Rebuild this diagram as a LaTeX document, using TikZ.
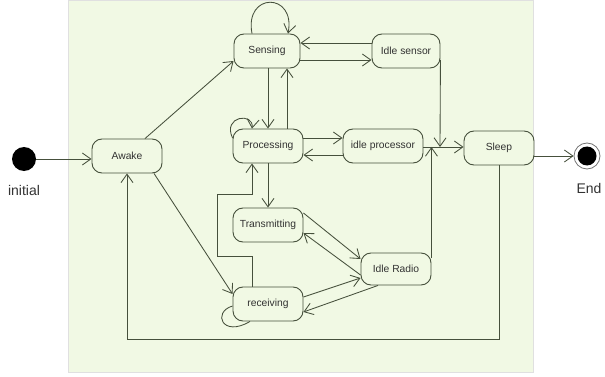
\documentclass[tikz,border=0pt]{standalone}
\usepackage{fontspec}
\setmainfont{Liberation Sans}
\usetikzlibrary{arrows.meta}
\definecolor{panelgreen}{RGB}{241,249,228}
\definecolor{edgegray}{RGB}{70,80,60}
\definecolor{textgray}{RGB}{50,50,50}

\begin{document}
\begin{tikzpicture}[x=1pt,y=-1pt,
    statebox/.style={draw=edgegray, line width=0.9pt, rounded corners=10pt, fill=panelgreen,
        minimum width=70pt, minimum height=34pt, inner sep=2pt,
        font=\fontsize{10.3}{12}\selectfont, text=textgray},
    trans/.style={draw=edgegray, line width=0.85pt, -{Straight Barb[length=8.5pt,width=12pt]}},
    link/.style={draw=edgegray, line width=0.85pt}]
    % 背景
    \useasboundingbox (0,0) rectangle (605,377);
    \filldraw[fill=panelgreen, draw=black!12] (68,0) rectangle (533,372);

    % 状态
    \node[circle, fill=black, minimum size=24pt, inner sep=0pt] (init) at (24,159) {};
    \node[font=\fontsize{14}{16}\selectfont, text=textgray] (initlabel) at (24,190) {initial};
    \node[statebox] (Awake) at (127,156) {Awake};
    \node[statebox, minimum width=66pt] (Sensing) at (267,51) {Sensing};
    \node[statebox, minimum width=68pt] (IdleSensor) at (406,51) {Idle sensor};
    \node[statebox] (Processing) at (268,146) {Processing};
    \node[statebox, minimum width=80pt] (IdleProc) at (383,146) {idle processor};
    \node[statebox] (Sleep) at (499,148) {Sleep};
    \node[statebox] (Transmitting) at (268,225) {Transmitting};
    \node[statebox, minimum height=32pt] (IdleRadio) at (396,269) {Idle Radio};
    \node[statebox] (receiving) at (268,304) {receiving};
    \node[circle, draw=black!55, fill=white, line width=0.8pt, minimum size=26pt, inner sep=0pt] (End) at (587,156) {};
    \fill (End) circle (9.5pt);
    \node[font=\fontsize{14}{16}\selectfont, text=textgray] (endlabel) at (589,188) {End};
    \coordinate (join) at (440,147);

    % 转移
    \draw[trans] (init) -- (Awake.west |- init);
    \draw[trans] (Awake.north -| 145,0) -- (Sensing.west |- 0,61);
    \draw[trans] (Awake.south -| 154,0) -- (receiving.west |- 0,294);
    \draw[trans] (Sleep.south) -- (Sleep.south |- 0,339) -| (Awake.south);
    \draw[trans] (Sensing.north -| 252,0) .. controls (244,-8) and (296,-8) .. (Sensing.north -| 288,0);
    \draw[trans] (Processing.west |- 0,138) .. controls (222,116) and (254,112) .. (Processing.north -| 252,0);
    \draw[link] (receiving.west |- 0,306) .. controls (212,312) and (222,338) .. (receiving.south -| 250,0);
    \draw[trans] (Sensing.south -| 268,0) -- (Processing.north -| 268,0);
    \draw[trans] (Processing.north -| 287,0) -- (Sensing.south -| 287,0);
    \draw[trans] (IdleSensor.west |- 0,43) -- (Sensing.east |- 0,43);
    \draw[trans] (Sensing.east |- 0,60) -- (IdleSensor.west |- 0,60);
    \draw[trans] (IdleSensor.east |- 0,60) -- (join);
    \draw[trans] (IdleProc.east |- join) -- (Sleep.west |- join);
    \draw[trans] (IdleRadio.east |- 0,258) -- (IdleRadio.east |- join);
    \draw[trans] (Processing.east |- 0,138) -- (IdleProc.west |- 0,138);
    \draw[trans] (IdleProc.west |- 0,155) -- (Processing.east |- 0,155);
    \draw[trans] (Processing) -- (Transmitting);
    \draw[trans] (receiving.north -| 252,0) |- (217,256) |- (252,194) -- (Processing.south -| 252,0);
    \draw[trans] (Transmitting.east |- 0,213) -- (IdleRadio.west |- 0,259);
    \draw[trans] (IdleRadio.west |- 0,275) -- (Transmitting.east |- 0,233);
    \draw[trans] (receiving.east |- 0,297) -- (IdleRadio.west |- 0,278);
    \draw[trans] (IdleRadio.south -| 378,0) -- (receiving.east |- 0,312);
    \draw[trans] (Sleep.east |- End) -- (End.west);
\end{tikzpicture}
\end{document}
